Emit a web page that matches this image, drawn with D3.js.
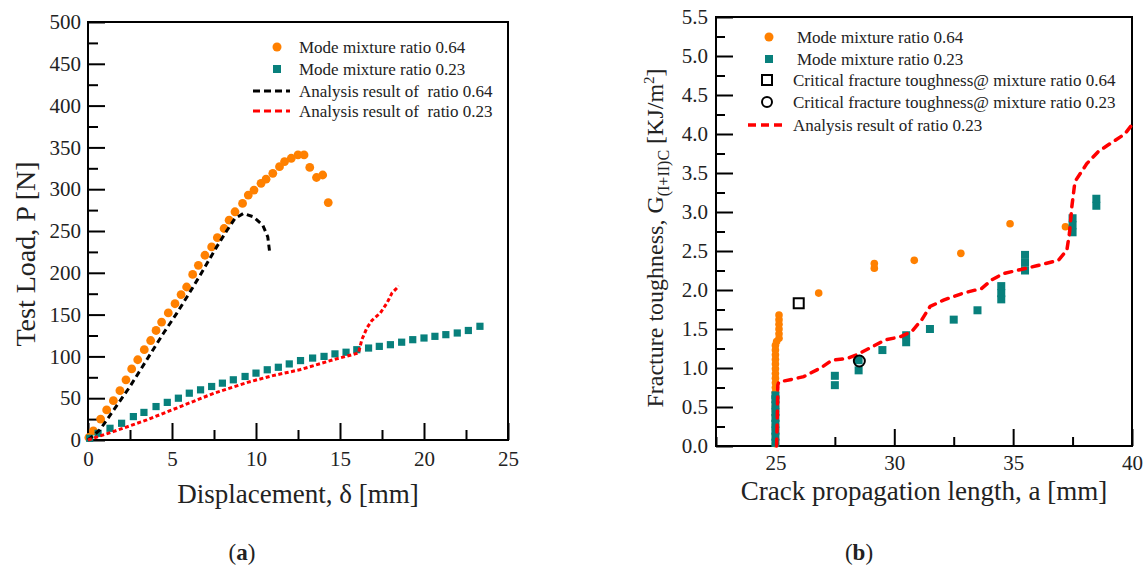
<!DOCTYPE html>
<html>
<head>
<meta charset="utf-8">
<script src="https://cdn.jsdelivr.net/npm/d3@7"></script>
<style>
body { margin: 0; background: #fff; }
svg { display: block; }
svg text { font-family: "Liberation Serif", "Times New Roman", serif !important; }
</style>
</head>
<body>
<svg id="chart" width="1148" height="569"></svg>
<script>
'use strict';

// (a) load - displacement, [delta mm, P N]
var loadRatio064 = [[0.05,3],[0.32,11],[0.75,25],[1.11,36],[1.51,47],[1.9,59],[2.26,72],[2.6,85],
    [2.96,96],[3.35,108],[3.73,119],[4.05,131],[4.38,141],[4.78,152],[5.18,163],[5.54,174],
    [5.87,183],[6.23,198],[6.57,209],[6.96,221],[7.36,231],[7.7,242],[8.1,253],[8.4,263],
    [8.75,273],[9.2,283],[9.54,293],[9.88,299],[10.3,307],[10.6,312],[11.0,319],[11.4,327],
    [11.7,333],[12.1,337],[12.5,341],[12.86,341],[13.2,326],[13.6,314],[13.97,317],[14.3,284]];
var loadRatio023 = [[0.1,2],[0.6,8],[1.31,14],[2.0,20],[2.7,28],[3.33,33],[4.05,40],[4.72,45],
    [5.38,50],[6.03,56],[6.7,60],[7.36,64],[8.0,68],[8.65,72],[9.35,76],[10.0,80],[10.67,84],
    [11.33,87],[11.98,91],[12.65,95],[13.37,98],[14.05,100],[14.7,103],[15.36,105],[16.0,108],
    [16.7,110],[17.34,112],[18.0,114],[18.67,117],[19.33,120],[20.0,122],[20.65,124],
    [21.3,126],[21.98,128],[22.64,131],[23.33,136]];
var analysisLoad064 = [[0,0],[0.7,12],[1.5,35],[2.5,64],[3.5,96],[4.5,128],[5.3,152],[6.07,177],
    [6.67,197],[7.66,231],[8.25,250],[8.75,265],[9.25,271],[9.84,267],[10.4,257],[10.7,243],[10.83,222]];
var analysisLoad023 = [[0,0],[1.5,10],[3.5,24],[5.5,40],[7.5,56],[9.5,69],[11,77],[12.6,84],
    [14.6,96],[15.9,103],[16.1,104],[16.3,120],[16.6,134],[16.9,143],[17.4,152],[17.8,164],
    [18.1,176],[18.5,184]];

// (b) fracture toughness - crack length, [a mm, G KJ/m2]
var toughRatio064 = [[25.0,0.03],[25.0,0.09],[25.0,0.15],[25.0,0.21],[25.0,0.27],[25.0,0.33],
    [25.0,0.39],[25.0,0.45],[25.0,0.51],[25.0,0.57],[25.0,0.63],[25.0,0.69],[25.0,0.75],
    [25.0,0.81],[25.0,0.87],[25.0,0.93],[25.0,0.99],[25.0,1.05],[25.0,1.11],[25.0,1.17],
    [25.0,1.23],[25.0,1.29],[25.05,1.34],[25.15,1.38],[25.15,1.44],[25.15,1.50],[25.15,1.56],
    [25.15,1.62],[25.15,1.68],[26.82,1.96],[29.16,2.28],[29.16,2.34],[30.84,2.38],[32.8,2.47],
    [34.87,2.85],[37.2,2.81]];
var toughRatio023 = [[25.0,0.04],[25.0,0.12],[25.0,0.2],[25.0,0.28],[25.0,0.36],[25.0,0.44],
    [25.0,0.52],[25.0,0.6],[25.0,0.65],[27.5,0.78],[27.5,0.9],[28.5,0.97],[28.5,1.1],[29.5,1.23],
    [30.5,1.33],[30.5,1.42],[31.5,1.5],[32.5,1.62],[33.5,1.74],[34.5,1.88],[34.5,1.96],[34.5,2.05],
    [35.5,2.25],[35.5,2.35],[35.5,2.45],[37.5,2.74],[37.5,2.83],[37.5,2.92],[38.5,3.08],[38.5,3.17]];
var criticalRatio064 = [[25.98,1.83]];
var criticalRatio023 = [[28.53,1.09]];
var analysisTough023 = [[25.05,0],[25.08,0.4],[25.1,0.78],[25.14,0.82],[25.77,0.86],[26.19,0.89],
    [26.9,1.0],[27.38,1.1],[28.0,1.12],[28.43,1.17],[29.06,1.27],[29.62,1.36],[30.25,1.4],
    [30.74,1.47],[31.16,1.62],[31.51,1.79],[32.07,1.87],[32.9,1.96],[33.68,2.02],[34.1,2.13],
    [34.59,2.21],[35.29,2.26],[35.99,2.31],[36.9,2.38],[37.26,2.51],[37.37,2.73],[37.47,3.07],
    [37.6,3.39],[38.1,3.62],[38.6,3.78],[39.2,3.9],[39.7,4.0],[40,4.12]];

var ticksLoadX = [0, 5, 10, 15, 20, 25],
    minorLoadX = [2.5, 7.5, 12.5, 17.5, 22.5],
    ticksLoadY = d3.range(0, 501, 50),
    minorLoadY = d3.range(25, 500, 50),
    ticksCrackX = [25, 30, 35, 40],
    minorCrackX = [22.5, 27.5, 32.5, 37.5],
    ticksToughY = d3.range(0, 5.51, 0.5),
    minorToughY = d3.range(0.25, 5.5, 0.5);

var ORANGE = "#ff8000", TEAL = "#08807c", RED = "#ff0000";

var svg = d3.select("#chart");

function axes(g, x, y, o) {
    g.append("g").attr("transform", "translate(0," + y.range()[0] + ")")
        .call(d3.axisBottom(x).tickValues(o.minorX).tickSize(-o.minor).tickFormat(""));
    g.append("g").attr("transform", "translate(0," + y.range()[0] + ")")
        .call(d3.axisBottom(x).tickValues(o.majorX).tickSize(-o.major).tickPadding(o.padX)
            .tickFormat(o.fmtX));
    g.append("g").attr("transform", "translate(" + x.range()[0] + ",0)")
        .call(d3.axisLeft(y).tickValues(o.minorY).tickSize(-o.minor).tickFormat(""));
    g.append("g").attr("transform", "translate(" + x.range()[0] + ",0)")
        .call(d3.axisLeft(y).tickValues(o.majorY).tickSize(-o.major).tickPadding(o.padY)
            .tickFormat(o.fmtY));
    g.selectAll(".domain").remove();
    g.selectAll(".tick line").attr("stroke", "#000").attr("stroke-width", 2);
    g.selectAll(".tick text").attr("font-size", 21).attr("fill", "#222");
    g.append("rect")
        .attr("x", x.range()[0]).attr("y", y.range()[1])
        .attr("width", x.range()[1] - x.range()[0]).attr("height", y.range()[0] - y.range()[1])
        .attr("fill", "none").attr("stroke", "#000").attr("stroke-width", 2);
}

// ---------- (a) ----------
var xA = d3.scaleLinear().domain([0, 25]).range([88, 508]),
    yA = d3.scaleLinear().domain([0, 500]).range([440, 22]),
    gA = svg.append("g");

axes(gA, xA, yA, {majorX: ticksLoadX, minorX: minorLoadX, majorY: ticksLoadY, minorY: minorLoadY,
    major: 17, minor: 10, padX: 11, padY: 7, fmtX: d3.format("d"), fmtY: d3.format("d")});

gA.append("g").selectAll("circle").data(loadRatio064).enter().append("circle")
    .attr("cx", function(d){return xA(d[0]);})
    .attr("cy", function(d){return yA(d[1]);})
    .attr("r", 4.4).attr("fill", ORANGE);

gA.append("g").selectAll("rect").data(loadRatio023).enter().append("rect")
    .attr("x", function(d){return xA(d[0]) - 3.6;})
    .attr("y", function(d){return yA(d[1]) - 3.6;})
    .attr("width", 7.2).attr("height", 7.2).attr("fill", TEAL);

var lineA = d3.line().x(function(d){return xA(d[0]);}).y(function(d){return yA(d[1]);});

gA.append("path").datum(analysisLoad064).attr("d", lineA)
    .attr("fill", "none").attr("stroke", "#000").attr("stroke-width", 3)
    .attr("stroke-dasharray", "6,4");
gA.append("path").datum(analysisLoad023).attr("d", lineA)
    .attr("fill", "none").attr("stroke", RED).attr("stroke-width", 3)
    .attr("stroke-dasharray", "4,2.5");

// legend (a)
var legA = gA.append("g").attr("font-size", 17).attr("fill", "#222");
legA.append("circle").attr("cx", 277).attr("cy", 47).attr("r", 4.5).attr("fill", ORANGE);
legA.append("rect").attr("x", 273).attr("y", 65).attr("width", 8).attr("height", 8).attr("fill", TEAL);
legA.append("line").attr("x1", 253).attr("x2", 290).attr("y1", 91).attr("y2", 91)
    .attr("stroke", "#000").attr("stroke-width", 3).attr("stroke-dasharray", "7,4");
legA.append("line").attr("x1", 253).attr("x2", 290).attr("y1", 111).attr("y2", 111)
    .attr("stroke", RED).attr("stroke-width", 3).attr("stroke-dasharray", "7,4");
["Mode mixture ratio 0.64", "Mode mixture ratio 0.23",
 "Analysis result of  ratio 0.64", "Analysis result of  ratio 0.23"].forEach(function(t, i){
    legA.append("text").attr("x", 299).attr("y", [53, 75, 97, 117][i])
        .attr("xml:space", "preserve").text(t);
});

gA.append("text").attr("x", 298).attr("y", 503).attr("text-anchor", "middle")
    .attr("font-size", 27).attr("fill", "#222").text("Displacement, \u03b4 [mm]");
gA.append("text").attr("transform", "translate(25,254) rotate(-90)").attr("dy", "0.35em")
    .attr("text-anchor", "middle").attr("font-size", 28).attr("fill", "#222")
    .text("Test Load, P [N]");

// ---------- (b) ----------
var xB = d3.scaleLinear().domain([22.5, 40]).range([716, 1132]),
    yB = d3.scaleLinear().domain([0, 5.5]).range([446, 17]),
    gB = svg.append("g");

axes(gB, xB, yB, {majorX: ticksCrackX, minorX: minorCrackX, majorY: ticksToughY, minorY: minorToughY,
    major: 17, minor: 9, padX: 9, padY: 8, fmtX: d3.format("d"), fmtY: d3.format(".1f")});

gB.append("g").selectAll("circle").data(toughRatio064).enter().append("circle")
    .attr("cx", function(d){return xB(d[0]);})
    .attr("cy", function(d){return yB(d[1]);})
    .attr("r", 3.8).attr("fill", ORANGE);

gB.append("g").selectAll("rect").data(toughRatio023).enter().append("rect")
    .attr("x", function(d){return xB(d[0]) - 4;})
    .attr("y", function(d){return yB(d[1]) - 4;})
    .attr("width", 8).attr("height", 8).attr("fill", TEAL);

var lineB = d3.line().x(function(d){return xB(d[0]);}).y(function(d){return yB(d[1]);});

gB.append("path").datum(analysisTough023).attr("d", lineB)
    .attr("fill", "none").attr("stroke", RED).attr("stroke-width", 3.5)
    .attr("stroke-linecap", "round").attr("stroke-dasharray", "7,7");

gB.append("g").selectAll("rect").data(criticalRatio064).enter().append("rect")
    .attr("x", function(d){return xB(d[0]) - 5;})
    .attr("y", function(d){return yB(d[1]) - 5;})
    .attr("width", 10).attr("height", 10)
    .attr("fill", "#fff").attr("stroke", "#000").attr("stroke-width", 2);
gB.append("g").selectAll("circle").data(criticalRatio023).enter().append("circle")
    .attr("cx", function(d){return xB(d[0]);})
    .attr("cy", function(d){return yB(d[1]);})
    .attr("r", 5.5).attr("fill", "none").attr("stroke", "#000").attr("stroke-width", 2);

// legend (b)
var legB = gB.append("g").attr("font-size", 17).attr("fill", "#222");
legB.append("circle").attr("cx", 769).attr("cy", 37).attr("r", 4.5).attr("fill", ORANGE);
legB.append("rect").attr("x", 765).attr("y", 55).attr("width", 8).attr("height", 8).attr("fill", TEAL);
legB.append("rect").attr("x", 762).attr("y", 75).attr("width", 10).attr("height", 10)
    .attr("fill", "none").attr("stroke", "#000").attr("stroke-width", 2);
legB.append("circle").attr("cx", 767).attr("cy", 102).attr("r", 5)
    .attr("fill", "none").attr("stroke", "#000").attr("stroke-width", 2);
legB.append("line").attr("x1", 748).attr("x2", 784).attr("y1", 125).attr("y2", 125)
    .attr("stroke", RED).attr("stroke-width", 3.5).attr("stroke-dasharray", "8,5");
[["Mode mixture ratio 0.64", 797], ["Mode mixture ratio 0.23", 797],
 ["Critical fracture toughness@ mixture ratio 0.64", 793],
 ["Critical fracture toughness@ mixture ratio 0.23", 793],
 ["Analysis result of ratio 0.23", 793]].forEach(function(t, i){
    legB.append("text").attr("x", t[1]).attr("y", [43, 65, 86, 108, 131][i]).text(t[0]);
});

gB.append("text").attr("x", 924).attr("y", 500).attr("text-anchor", "middle")
    .attr("font-size", 27).attr("fill", "#222").text("Crack propagation length, a [mm]");
var yt = gB.append("text").attr("transform", "translate(655,238) rotate(-90)").attr("dy", "0.35em")
    .attr("text-anchor", "middle").attr("font-size", 24).attr("fill", "#222");
yt.append("tspan").text("Fracture toughness, G");
yt.append("tspan").attr("font-size", 16).attr("dy", 6).text("(I+II)C");
yt.append("tspan").attr("dy", -6).text(" [KJ/m");
yt.append("tspan").attr("font-size", 15).attr("dy", -9).text("2");
yt.append("tspan").attr("dy", 9).text("]");

// panel captions
[["a", 242], ["b", 859]].forEach(function(c){
    var t = svg.append("text").attr("x", c[1]).attr("y", 560).attr("text-anchor", "middle")
        .attr("font-size", 23).attr("fill", "#222");
    t.append("tspan").text("(");
    t.append("tspan").attr("font-weight", "bold").text(c[0]);
    t.append("tspan").text(")");
});
</script>
</body>
</html>
